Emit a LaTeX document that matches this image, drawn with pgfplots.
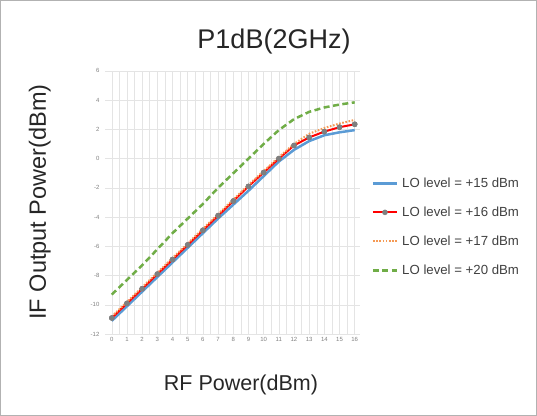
\documentclass[border=0pt]{standalone}
\usepackage{pgfplots}
\pgfplotsset{compat=1.18}
\usepackage{fontspec}
\setmainfont{Liberation Sans}
\definecolor{cblue}{HTML}{5B9BD5}
\definecolor{cred}{HTML}{FF0000}
\definecolor{cgray}{HTML}{7F7F7F}
\definecolor{corange}{HTML}{F59A55}
\definecolor{cgreen}{HTML}{70AD47}
\definecolor{gridc}{HTML}{E4E4E4}
\pgfplotstableread{
x p15 p16 p17 p20
0 -11.1 -10.9 -10.8 -9.3
1 -10.1 -9.9 -9.8 -8.3
2 -9.1 -8.9 -8.8 -7.3
3 -8.1 -7.9 -7.8 -6.2
4 -7.1 -6.9 -6.8 -5.1
5 -6.1 -5.9 -5.8 -4.1
6 -5.1 -4.9 -4.8 -3.1
7 -4.1 -3.9 -3.8 -2.0
8 -3.15 -2.9 -2.8 -1.0
9 -2.2 -1.9 -1.8 0.0
10 -1.2 -0.95 -0.85 1.0
11 -0.2 0.0 0.1 1.95
12 0.6 0.9 1.0 2.7
13 1.2 1.45 1.7 3.2
14 1.6 1.85 2.1 3.5
15 1.8 2.15 2.4 3.7
16 1.95 2.35 2.65 3.85
}\datatable
\begin{document}
\begin{tikzpicture}[x=1pt,y=1pt]
\draw[gray!60, line width=0.8pt] (0.5,0.5) rectangle (536.5,415.5);
\begin{axis}[
  at={(105pt,82pt)}, anchor=south west,
  scale only axis, width=255pt, height=263pt,
  xmin=-0.45, xmax=16.35, ymin=-12, ymax=6,
  xtick={0,...,16}, ytick={-12,-10,...,6},
  minor x tick num=1,
  xmajorgrids, xminorgrids, ymajorgrids,
  grid style={gridc, line width=0.5pt},
  minor grid style={gridc, line width=0.5pt},
  axis line style={draw=none},
  tick style={draw=none},
  ticklabel style={font=\fontsize{6}{7}\selectfont, text=gray},
  /pgf/number format/assume math mode=true,
  yticklabel style={xshift=-2pt},
  legend cell align=left,
  legend style={at={(1.045,0.61)}, anchor=north west, draw=none, fill=none,
    font=\fontsize{13.2}{15}\selectfont, text=black!75, row sep=14pt,
    inner xsep=0pt},
  legend image code/.code={\draw[mark repeat=2,mark phase=2,#1] plot coordinates {(0pt,0pt)(12pt,0pt)(24pt,0pt)};},
]
\addplot[cblue, line width=2.5pt] table[x=x,y=p15] {\datatable};
\addlegendentry{\hspace{2pt}LO level = +15 dBm}
\addplot[cred, line width=2pt, mark=*, mark size=2.5pt, mark options={fill=cgray, draw=cgray, line width=0.5pt}] table[x=x,y=p16] {\datatable};
\addlegendentry{\hspace{2pt}LO level = +16 dBm}
\addplot[corange, line width=2pt, dash pattern=on 1.6pt off 1.6pt] table[x=x,y=p17] {\datatable};
\addlegendentry{\hspace{2pt}LO level = +17 dBm}
\addplot[cgreen, line width=2.5pt, dash pattern=on 6pt off 3.5pt] table[x=x,y=p20] {\datatable};
\addlegendentry{\hspace{2pt}LO level = +20 dBm}
\addplot[only marks, mark=*, mark size=2.5pt, mark options={fill=cgray, draw=cgray, line width=0.5pt}, forget plot] table[x=x,y=p16] {\datatable};
\end{axis}
\node[font=\fontsize{27}{32}\selectfont, text=black!85] at (274,374) {P1dB(2GHz)};
\node[font=\fontsize{23.5}{28}\selectfont, rotate=90, text=black!85] at (40,214) {IF Output Power(dBm)};
\node[font=\fontsize{21.5}{26}\selectfont, text=black!85] at (241,31) {RF Power(dBm)};
\end{tikzpicture}
\end{document}
